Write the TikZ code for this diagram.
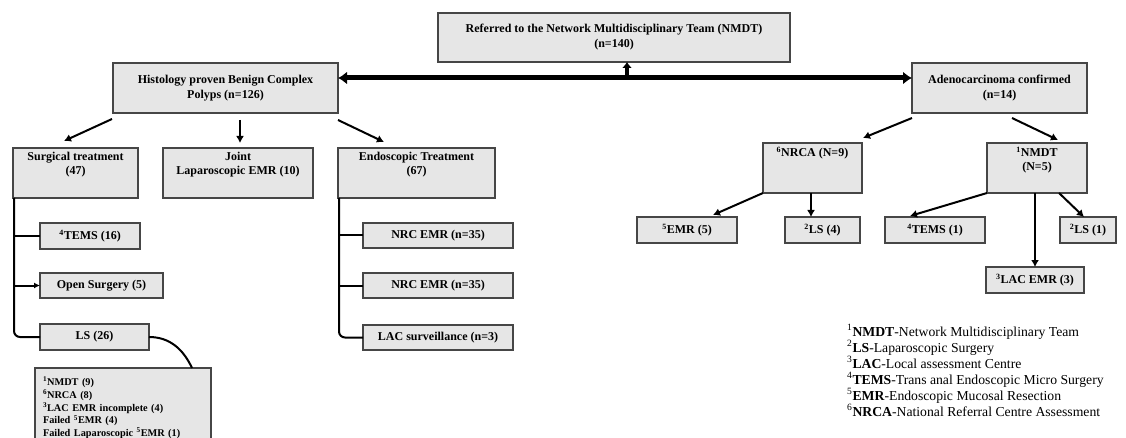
\documentclass[tikz,border=0pt]{standalone}
\usepackage{fontspec}
\setmainfont{Liberation Serif}
\usetikzlibrary{arrows.meta}
\definecolor{boxgray}{RGB}{230,230,230}
\definecolor{edgegray}{RGB}{70,70,70}

\begin{document}
\begin{tikzpicture}[x=1pt,y=-1pt]
  \tikzset{BoxStyle/.style = {
    shape         = rectangle,
    draw          = edgegray,
    fill          = boxgray,
    line width    = 1.5pt,
    text          = black,
    inner sep     = 0pt,
    outer sep     = 0pt,
    align         = center,
    font          = \fontsize{12}{15}\selectfont\bfseries
    }
  }
  \tikzset{TopText/.style = {
    label = {[anchor=north, align=center, inner sep=4pt,
              font=\fontsize{12}{14}\selectfont\bfseries]north:{#1}}
    }
  }
  \tikzset{ArrowStyle/.style = {
    draw          = black,
    line width    = 2pt,
    -{Latex[length=7pt,width=8pt]}
    }
  }
  \tikzset{TreeStyle/.style = {
    draw          = black,
    line width    = 2pt
    }
  }
  \tikzset{LegendStyle/.style = {
    anchor        = base west,
    inner sep     = 0pt,
    font          = \fontsize{13.7}{16}\selectfont
    }
  }
  \useasboundingbox (0,0) rectangle (1126,438);

	\node[BoxStyle, minimum width=352, minimum height=49](A1) at (614,37.5) {Referred to the Network Multidisciplinary Team (NMDT)\\(n=140)};
	\node[BoxStyle, minimum width=225, minimum height=50](B1) at (225.5,88) {Histology proven Benign Complex\\Polyps (n=126)};
	\node[BoxStyle, minimum width=175, minimum height=50](B2) at (999.5,88) {Adenocarcinoma confirmed\\(n=14)};

	\node[BoxStyle, minimum width=125, minimum height=50, TopText={Surgical treatment\\(47)}](C1) at (75.5,173) {};
	\node[BoxStyle, minimum width=150, minimum height=50, TopText={Joint\\Laparoscopic EMR (10)}](C2) at (238,173) {};
	\node[BoxStyle, minimum width=157, minimum height=50, TopText={Endoscopic Treatment\\(67)}](C3) at (416.5,173) {};
	\node[BoxStyle, minimum width=99, minimum height=50, TopText={\textsuperscript{6}NRCA (N=9)}](C4) at (812.5,168) {};
	\node[BoxStyle, minimum width=100, minimum height=50, TopText={\textsuperscript{1}NMDT\\(N=5)}](C5) at (1037,168) {};

	\node[BoxStyle, minimum width=100, minimum height=26](D1) at (90,236) {\textsuperscript{4}TEMS (16)};
	\node[BoxStyle, minimum width=123, minimum height=25](D2) at (101.5,285.5) {Open Surgery (5)};
	\node[BoxStyle, minimum width=109, minimum height=26](D3) at (94.5,337) {LS (26)};
	\node[BoxStyle, minimum width=150, minimum height=25](D4) at (438,235.5) {NRC EMR (n=35)};
	\node[BoxStyle, minimum width=150, minimum height=25](D5) at (438,285.5) {NRC EMR (n=35)};
	\node[BoxStyle, minimum width=150, minimum height=25](D6) at (438,337.5) {LAC surveillance (n=3)};
	\node[BoxStyle, anchor=north west, align=left, text width=160pt, inner xsep=8pt, inner ysep=6pt, minimum height=80,
	      font=\fontsize{10.3}{12.75}\selectfont\bfseries](D7) at (35,368)
	      {\textsuperscript{1}NMDT (9)\\\textsuperscript{6}NRCA (8)\\\textsuperscript{3}LAC EMR incomplete (4)\\Failed \textsuperscript{5}EMR (4)\\Failed Laparoscopic \textsuperscript{5}EMR (1)};

	\node[BoxStyle, minimum width=100, minimum height=26](E1) at (687,230) {\textsuperscript{5}EMR (5)};
	\node[BoxStyle, minimum width=75, minimum height=26](E2) at (822.5,230) {\textsuperscript{2}LS (4)};
	\node[BoxStyle, minimum width=100, minimum height=26](E3) at (935,230) {\textsuperscript{4}TEMS (1)};
	\node[BoxStyle, minimum width=56, minimum height=26](E4) at (1088,230) {\textsuperscript{2}LS (1)};
	\node[BoxStyle, minimum width=98, minimum height=26](E5) at (1035,280) {\textsuperscript{3}LAC EMR (3)};

	\node[LegendStyle](L1) at (847,336) {\textsuperscript{1}\textbf{NMDT}-Network Multidisciplinary Team};
	\node[LegendStyle](L2) at (847,352) {\textsuperscript{2}\textbf{LS}-Laparoscopic Surgery};
	\node[LegendStyle](L3) at (847,368) {\textsuperscript{3}\textbf{LAC}-Local assessment Centre};
	\node[LegendStyle](L4) at (847,384) {\textsuperscript{4}\textbf{TEMS}-Trans anal Endoscopic Micro Surgery};
	\node[LegendStyle](L5) at (847,400) {\textsuperscript{5}\textbf{EMR}-Endoscopic Mucosal Resection};
	\node[LegendStyle](L6) at (847,416) {\textsuperscript{6}\textbf{NRCA}-National Referral Centre Assessment};

	% top split
	\draw[line width=5pt, {Latex[length=9pt,width=13pt]}-{Latex[length=9pt,width=13pt]}] ([yshift=10pt]B1.east) -- ([yshift=10pt]B2.west);
	\draw[line width=4pt, -{Latex[length=6pt,width=10pt]}] ([xshift=13pt,yshift=-16pt]A1.south) -- ([xshift=13pt]A1.south);

	\draw[ArrowStyle]([xshift=-1pt,yshift=-6pt]B1.south west) to ([xshift=-11.5pt,yshift=7pt]C1.north);
	\draw[ArrowStyle]([xshift=14.5pt,yshift=-7pt]B1.south) to ([xshift=2pt,yshift=5pt]C2.north);
	\draw[ArrowStyle]([yshift=-7pt]B1.south east) to ([xshift=-32.5pt,yshift=6pt]C3.north);
	\draw[ArrowStyle]([yshift=-5pt]B2.south west) to ([xshift=1pt,yshift=5pt]C4.north east);
	\draw[ArrowStyle]([xshift=12.5pt,yshift=-5pt]B2.south) to ([xshift=21pt,yshift=3pt]C5.north);

	\draw[ArrowStyle](C4.south west) to ([xshift=26pt,yshift=2pt]E1.north);
	\draw[ArrowStyle]([xshift=-1.5pt]C4.south) to ([xshift=-11.5pt]E2.north);
	\draw[ArrowStyle](C5.south west) to ([xshift=-25pt,yshift=1pt]E3.north);
	\draw[ArrowStyle]([xshift=-2pt]C5.south) to (E5.north);
	\draw[ArrowStyle]([xshift=-28pt]C5.south east) to ([xshift=-4pt]E4.north);

	% surgical branch
	\draw[TreeStyle]([xshift=1pt]C1.south west) |- (D1.west);
	\draw[TreeStyle, -{Latex[length=6pt,width=6pt]}]([xshift=1pt]C1.south west) |- (D2.west);
	\draw[TreeStyle, rounded corners=6pt]([xshift=1pt]C1.south west) |- (D3.west);
	\draw[TreeStyle](D3.east) to[out=0, in=115] ([xshift=-19pt]D7.north east);

	% endoscopic branch
	\draw[TreeStyle]([xshift=1pt]C3.south west) |- (D4.west);
	\draw[TreeStyle]([xshift=1pt]C3.south west) |- (D5.west);
	\draw[TreeStyle, rounded corners=6pt]([xshift=1pt]C3.south west) |- (D6.west);

  \end{tikzpicture}
\end{document}
